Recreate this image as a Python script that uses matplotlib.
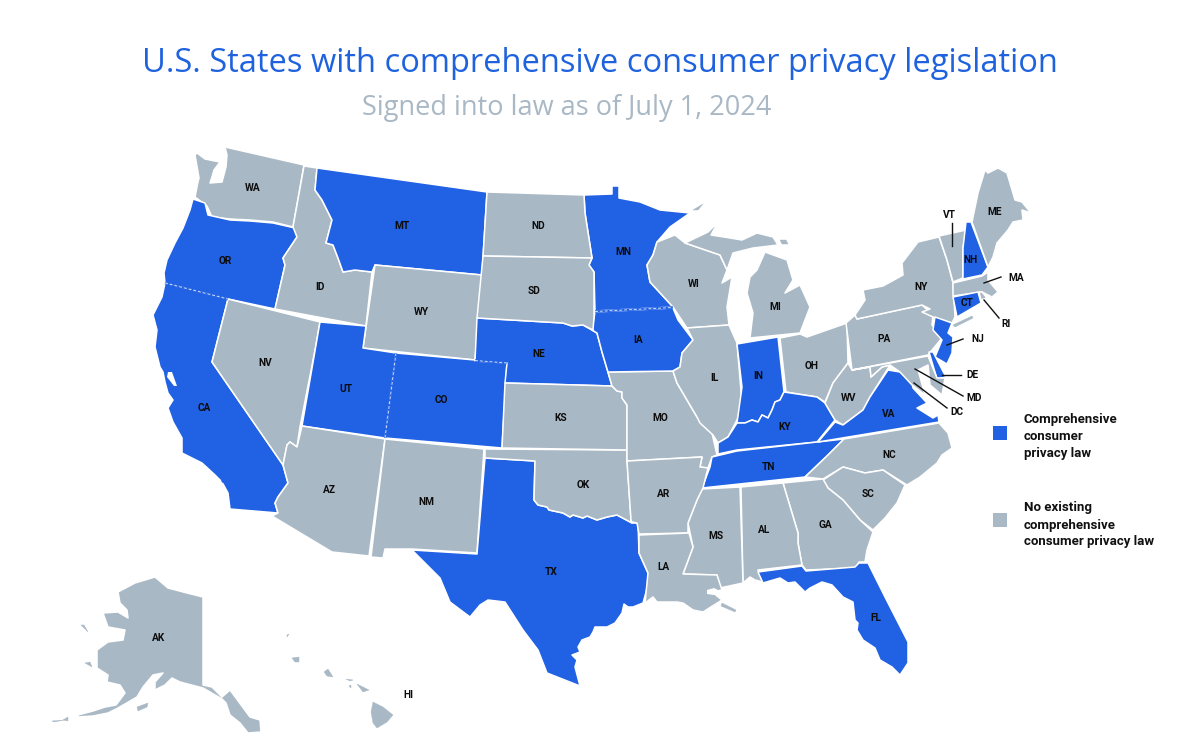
import matplotlib
matplotlib.use("Agg")
import matplotlib.pyplot as plt
from matplotlib.patches import Polygon

BLUE = "#2161E3"
GREY = "#A9B8C5"

title = "U.S. States with comprehensive consumer privacy legislation"
subtitle = "Signed into law as of July 1, 2024"
law_states = ["OR", "CA", "MT", "UT", "CO", "NE", "TX", "MN", "IA", "IN", "KY", "TN", "VA", "FL", "NJ", "DE", "CT", "NH"]
legend_law = ["Comprehensive", "consumer", "privacy law"]
legend_none = ["No existing", "comprehensive", "consumer privacy law"]

outlines = {
"WA": [(225,147),(304,165),(293,227),(273,222),(250,220),(230,219),(212,217),(207,206),(195,197),(198,182),(199,178),(195,155),(197,153),(205,159),(220,162),(214,170),(212,177),(210,183),(222,182),(226,167),(227,155)],
"OR": [(193,199),(205,203),(208,215),(230,220),(250,221),(273,223),(295,228),(297,237),(283,258),(285,265),(275,309),(228,299),(165,283),(164,273),(167,260),(175,243),(183,228),(190,210)],
"CA": [(165,283),(228,299),(212,362),(283,465),(288,483),(278,497),(275,503),(278,513),(230,509),(228,493),(222,482),(215,475),(202,463),(182,453),(182,438),(173,422),(168,408),(173,400),(168,393),(165,382),(163,372),(160,367),(155,347),(157,330),(153,315),(162,297)],
"NV": [(228,299),(320,322),(315,350),(300,427),(297,447),(290,442),(287,445),(283,465),(212,362)],
"ID": [(304,166),(317,168),(315,190),(322,200),(332,220),(326,243),(333,245),(338,258),(343,272),(355,270),(372,272),(366,326),(275,309),(285,265),(283,258),(297,237),(293,227)],
"MT": [(317,168),(487,192),(482,275),(375,265),(372,272),(355,270),(343,272),(338,258),(333,245),(326,243),(332,220),(322,200),(315,190)],
"WY": [(375,265),(482,275),(475,360),(363,348)],
"UT": [(320,322),(366,326),(363,348),(396,353),(385,438),(302,426)],
"CO": [(396,353),(475,360),(507,363),(502,448),(385,438)],
"NE": [(477,318),(563,323),(572,326),(583,325),(597,333),(602,352),(612,386),(505,383),(507,363),(475,361)],
"AZ": [(302,426),(385,439),(369,556),(332,552),(272,516),(278,513),(275,503),(278,497),(288,483),(283,465),(287,445),(290,442),(297,447)],
"NM": [(385,439),(484,449),(477,553),(412,549),(385,549),(383,558),(371,557)],
"TX": [(485,458),(535,461),(534,500),(538,505),(547,507),(549,510),(563,513),(570,517),(573,515),(583,518),(587,516),(597,520),(607,517),(617,515),(632,523),(638,523),(639,553),(648,573),(648,585),(643,603),(633,607),(628,607),(624,604),(622,613),(615,623),(607,627),(598,627),(595,627),(593,632),(590,637),(582,640),(578,647),(580,652),(572,655),(577,660),(575,667),(580,686),(547,673),(538,650),(523,630),(505,602),(488,600),(480,605),(470,617),(450,602),(440,578),(412,550),(477,554)],
"OK": [(485,449),(627,450),(627,460),(631,520),(632,523),(617,515),(607,517),(597,520),(587,516),(583,518),(573,515),(570,517),(563,513),(549,510),(547,507),(538,505),(534,500),(535,461),(485,458)],
"KS": [(505,383),(612,386),(617,391),(622,392),(622,398),(627,405),(627,450),(502,448)],
"MO": [(608,372),(673,371),(677,383),(687,400),(697,417),(712,433),(717,455),(712,457),(708,468),(700,467),(702,457),(627,461),(627,405),(622,398),(622,392),(617,391),(612,386)],
"IA": [(595,312),(673,308),(678,320),(693,340),(682,353),(680,367),(673,371),(608,372),(602,352),(597,333),(592,330)],
"MN": [(584,195),(612,194),(612,186),(619,186),(619,198),(640,202),(660,210),(690,213),(670,227),(657,242),(653,255),(647,265),(650,282),(673,307),(595,311),(594,272),(589,265),(592,258),(585,213)],
"ND": [(487,192),(584,195),(585,213),(592,258),(483,256)],
"SD": [(483,256),(592,258),(589,265),(594,272),(594,317),(593,330),(583,325),(572,326),(563,323),(477,318)],
"WI": [(657,242),(675,235),(685,243),(720,255),(727,270),(722,283),(732,277),(727,307),(729,325),(687,328),(675,310),(673,307),(650,282),(647,265),(653,255)],
"IL": [(687,328),(729,325),(737,343),(742,403),(737,420),(728,437),(718,443),(713,435),(700,423),(697,417),(687,400),(677,383),(673,371),(680,367),(682,353),(693,340)],
"IN": [(737,344),(778,337),(784,392),(780,400),(775,402),(772,410),(768,418),(762,415),(758,422),(752,420),(745,423),(737,423),(742,387)],
"OH": [(780,338),(800,334),(807,337),(847,323),(848,363),(833,383),(825,402),(817,397),(786,392)],
"KY": [(784,392),(817,397),(825,403),(835,420),(817,442),(737,450),(718,454),(718,443),(728,437),(737,423),(745,423),(752,420),(758,422),(762,415),(768,418),(772,410),(775,402),(780,400)],
"TN": [(712,457),(737,451),(844,439),(828,455),(805,477),(702,488),(710,467)],
"WV": [(825,403),(833,383),(848,363),(852,370),(870,367),(871,377),(882,367),(890,365),(887,370),(870,397),(863,410),(843,425),(835,420)],
"VA": [(888,370),(900,372),(912,383),(913,388),(927,403),(917,408),(933,418),(938,415),(939,422),(818,442),(835,422),(843,425),(863,410),(870,397)],
"NC": [(939,423),(948,433),(952,448),(942,455),(937,463),(920,477),(907,485),(883,470),(865,473),(843,467),(823,479),(805,477),(828,455),(844,439)],
"SC": [(823,480),(843,467),(865,473),(883,470),(905,485),(897,503),(885,518),(873,530),(860,520),(843,500),(828,488)],
"GA": [(783,483),(823,479),(828,488),(843,500),(860,520),(873,532),(867,550),(865,562),(859,562),(856,568),(806,570),(802,565),(798,543),(798,533)],
"AL": [(741,487),(783,483),(798,533),(798,543),(802,565),(758,570),(763,582),(755,580),(750,577),(743,583)],
"MS": [(702,489),(740,487),(743,583),(720,588),(717,575),(683,574),(693,547),(688,523),(697,500)],
"AR": [(627,461),(702,457),(700,467),(708,468),(703,488),(697,500),(688,523),(688,533),(639,534),(637,523),(632,522),(631,520)],
"LA": [(639,535),(689,533),(693,547),(683,574),(717,575),(722,590),(712,592),(722,600),(703,612),(693,610),(683,603),(677,602),(657,602),(653,597),(645,603),(648,573),(639,553)],
"LA2": [(722,603),(736,610),(735,612),(721,606)],
"FL": [(758,572),(802,566),(806,571),(855,567),(859,563),(868,563),(885,597),(908,642),(908,663),(900,675),(892,667),(880,660),(875,648),(863,640),(857,630),(858,623),(855,620),(853,602),(843,597),(832,585),(822,582),(810,588),(805,592),(795,582),(788,583),(780,578),(763,583)],
"MI": [(750,338),(753,313),(747,293),(750,277),(757,270),(765,252),(787,260),(793,280),(785,293),(800,285),(810,307),(800,333)],
"MI2": [(685,243),(708,232),(718,222),(711,235),(730,238),(742,240),(757,233),(773,237),(778,245),(753,248),(733,253),(727,270),(720,255)],
"MI3": [(693,210),(703,204),(698,210)],
"MI4": [(780,240),(786,240),(788,244),(782,244)],
"PA": [(846,323),(855,315),(857,319),(922,305),(933,315),(932,325),(942,338),(928,355),(852,370)],
"NY": [(855,315),(865,300),(863,290),(883,286),(903,275),(902,263),(918,242),(939,237),(947,260),(953,283),(955,317),(952,323),(933,317),(922,312),(930,309),(922,305),(857,319)],
"NY2": [(953,325),(972,316),(973,318),(955,327)],
"VT": [(939,236),(966,230),(963,248),(963,278),(953,282),(947,260)],
"NH": [(966,222),(971,222),(988,267),(982,275),(963,279),(963,248)],
"ME": [(972,222),(978,193),(985,170),(988,173),(998,168),(1007,173),(1015,200),(1022,202),(1031,213),(1022,210),(1023,220),(1013,222),(1008,230),(997,243),(993,257),(988,267)],
"MA": [(953,283),(982,276),(988,272),(988,280),(998,292),(992,297),(982,292),(953,296)],
"RI": [(979,292),(982,292),(987,298),(981,300)],
"CT": [(953,297),(978,292),(981,303),(957,317)],
"NJ": [(935,317),(952,323),(948,333),(953,337),(952,353),(947,364),(935,357),(942,340),(933,330)],
"DE": [(929,352),(933,352),(946,377),(937,379)],
"MD": [(852,370),(928,356),(937,378),(945,378),(942,395),(930,385),(928,365),(918,370),(925,395),(912,385),(900,372),(890,365),(882,367),(871,377),(870,367)],
"AK": [(118,592),(135,583),(155,577),(168,588),(187,593),(203,597),(203,685),(212,687),(222,697),(230,690),(250,717),(260,720),(261,732),(248,733),(240,723),(230,715),(226,703),(222,699),(210,692),(203,688),(180,682),(172,678),(165,685),(155,690),(155,682),(163,673),(153,675),(143,687),(137,697),(118,708),(108,713),(93,716),(78,717),(78,715),(93,711),(105,707),(116,705),(125,693),(120,685),(107,682),(108,675),(97,668),(97,650),(108,642),(123,640),(125,630),(108,627),(103,613),(118,612),(128,618),(127,610),(120,603)],
"AK2": [(81,625),(84,625),(88,632)],
"AK3": [(85,663),(90,662),(92,667)],
"AK4": [(137,707),(148,703),(147,707),(138,711)],
"AK5": [(52,721),(64,720),(54,722)],
"AK6": [(63,720),(68,717),(68,721)],
"CA2": [(204,462),(210,465),(205,464)],
"CA3": [(221,478),(227,482),(226,484),(222,482)],
"HI": [(373,702),(383,707),(393,715),(387,722),(377,728),(373,723),(371,712)],
"HI2": [(357,684),(369,690),(363,692)],
"HI3": [(346,679),(353,680),(350,681)],
"HI4": [(349,686),(351,685),(351,688)],
"HI5": [(324,672),(328,669),(333,677),(327,676)],
"HI6": [(292,658),(299,657),(299,662),(295,662)],
"HI7": [(287,635),(289,634),(287,637)],
}
islands = ["LA2", "MI3", "MI4", "NY2", "AK2", "AK3", "AK4", "AK5", "AK6", "CA2", "CA3", "HI", "HI2", "HI3", "HI4", "HI5", "HI6", "HI7"]
water = [[(168,372),(172,372),(177,386),(174,386),(167,377)], [(707,590),(714,588),(720,591),(714,595),(707,594)]]

state_labels = {
"WA":(253,188),"MT":(402,226),"OR":(225,261),"ID":(320,287),"WY":(421,312),"NV":(265,363),"CA":(204,408),
"UT":(346,389),"CO":(441,400),"AZ":(329,490),"NM":(426,502),"ND":(538,226),"SD":(534,291),"NE":(539,354),
"KS":(561,418),"OK":(583,485),"TX":(551,572),"MN":(623,252),"IA":(638,340),"MO":(660,418),"AR":(664,494),
"LA":(663,567),"WI":(694,284),"IL":(714,378),"MS":(716,536),"AL":(764,530),"IN":(758,376),"KY":(785,427),
"TN":(769,467),"MI":(775,307),"OH":(812,366),"WV":(849,398),"VA":(889,414),"NC":(889,455),"SC":(868,494),
"GA":(825,525),"FL":(876,618),"PA":(884,339),"NY":(921,287),"ME":(995,212),"NH":(971,260),"CT":(967,303),
"AK":(159,638),"HI":(408,695),
"VT":(949,215),"MA":(1016,278),"RI":(1006,324),"NJ":(978,339),"DE":(972,375),"MD":(974,398),"DC":(957,412),
}
leaders = [((952,223),(952,246)),((984,283),(1001,277)),((984,300),(999,318)),((947,345),(963,339)),
           ((942,375),(961,375)),((915,369),(963,396)),((914,383),(947,408))]
inner_borders = [((165,283),(228,299)),((396,353),(385,438)),((475,360.5),(507,363)),((595,311.5),(673,307.5))]

fig = plt.figure(figsize=(12, 7.51), dpi=100, facecolor="white")
ax = fig.add_axes([0, 0, 1, 1])
ax.set_xlim(0, 1200)
ax.set_ylim(751, 0)
ax.axis("off")

for name, pts in outlines.items():
    colour = BLUE if name[:2] in law_states else GREY
    ax.add_patch(Polygon(pts, closed=True, facecolor=colour,
                         edgecolor=colour if name in islands else "white",
                         linewidth=0.3 if name in islands else 1.1, joinstyle="round"))
for pts in water:
    ax.add_patch(Polygon(pts, closed=True, facecolor="white", edgecolor="none"))
for a, b in inner_borders:
    ax.plot([a[0], b[0]], [a[1], b[1]], color=BLUE, lw=1.8, solid_capstyle="butt")
    ax.plot([a[0], b[0]], [a[1], b[1]], color="white", lw=0.7, ls=(0, (3, 2)), alpha=.8)
for a, b in leaders:
    ax.plot([a[0], b[0]], [a[1], b[1]], color="#111111", lw=1.0)
for st, (x, y) in state_labels.items():
    ax.text(x, y, st, ha="center", va="center", fontsize=7.3, fontweight="bold", color="#0c0c0c", family="Roboto")

ax.text(600, 63, title, ha="center", va="center", fontsize=23.5, color="#1F62DE", family="Open Sans")
ax.text(567, 108, subtitle, ha="center", va="center", fontsize=19.5, color=GREY, family="Open Sans")

ax.add_patch(plt.Rectangle((993, 426), 14, 14, facecolor=BLUE, edgecolor="none"))
ax.add_patch(plt.Rectangle((993, 513), 14, 14, facecolor=GREY, edgecolor="none"))
for i, line in enumerate(legend_law):
    ax.text(1024, 419 + 17 * i, line, va="center", ha="left", fontsize=9.5, fontweight="bold", color="#111111", family="Roboto")
for i, line in enumerate(legend_none):
    ax.text(1024, 508 + 17 * i, line, va="center", ha="left", fontsize=9.5, fontweight="bold", color="#111111", family="Roboto")

fig.savefig("out.png", dpi=100, facecolor="white")
